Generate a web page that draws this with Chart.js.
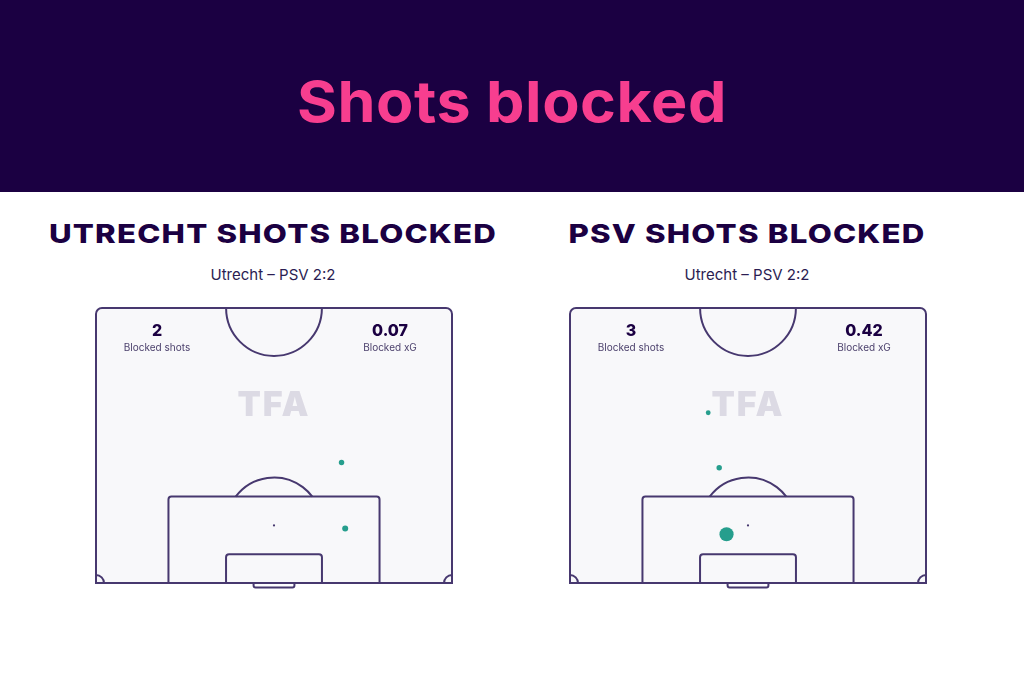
<!DOCTYPE html>
<html>
<head>
<meta charset="utf-8">
<script src="https://cdn.jsdelivr.net/npm/chart.js@4"></script>
<style>
  html, body { margin: 0; padding: 0; }
  body { width: 1024px; height: 683px; position: relative; background: #fff; overflow: hidden; font-family: "Inter", sans-serif; color: #1b0042; }
  .header { position: absolute; left: 0; top: 0; width: 1024px; height: 192px; background: #1b0042; }
  .t { position: absolute; transform: translate(-50%, -50%); white-space: nowrap; line-height: 1; }
  .main { font-size: 57px; font-weight: 700; color: #f73e8f; letter-spacing: 0.5px; transform: translate(-50%, -50%) scaleX(1.07); }
  .ptitle { font-size: 26px; font-weight: 800; letter-spacing: 1px; color: #1b0042; transform: translate(-50%, -50%) scaleX(1.2); }
  .sub { font-size: 15px; color: #2b1d52; }
  .num { font-size: 16px; font-weight: 800; color: #1b0042; }
  .lab { font-size: 10px; color: #4a3f6b; }
  .wm { font-size: 34px; font-weight: 900; color: #dcdae4; letter-spacing: 2px; }
  .box { position: absolute; }
</style>
</head>
<body>
<div class="header"></div>
<div class="t main" style="left:512px; top:101px;">Shots blocked</div>

<div class="t ptitle" style="left:273px; top:234px;">UTRECHT SHOTS BLOCKED</div>
<div class="t sub" style="left:273px; top:274px;">Utrecht – PSV 2:2</div>
<div class="t ptitle" style="left:747px; top:234px;">PSV SHOTS BLOCKED</div>
<div class="t sub" style="left:747px; top:274px;">Utrecht – PSV 2:2</div>

<div class="box" style="left:86px; top:298px;"><canvas id="leftPitch" width="376" height="295"></canvas></div>
<div class="box" style="left:560px; top:298px;"><canvas id="rightPitch" width="376" height="295"></canvas></div>

<div class="t wm" style="left:274px; top:404px;">TFA</div>
<div class="t wm" style="left:748px; top:404px;">TFA</div>

<div class="t num" id="lShots" style="left:157px; top:330px;"></div>
<div class="t lab" style="left:157px; top:347px;">Blocked shots</div>
<div class="t num" id="lXg" style="left:390px; top:330px;"></div>
<div class="t lab" style="left:390px; top:347px;">Blocked xG</div>
<div class="t num" id="rShots" style="left:631px; top:330px;"></div>
<div class="t lab" style="left:631px; top:347px;">Blocked shots</div>
<div class="t num" id="rXg" style="left:864px; top:330px;"></div>
<div class="t lab" style="left:864px; top:347px;">Blocked xG</div>

<script>
// shot locations in metres: x across the pitch (0-68), y from the goal line
const utrechtX = [46.9, 47.6];
const utrechtY = [23.0, 10.4];
const utrechtXg = [0.03, 0.04];

const psvX = [26.4, 28.5, 29.9];
const psvY = [32.5, 22.0, 9.3];
const psvXg = [0.02, 0.03, 0.37];

const LINE = "#47386f";
const DOT = "#269e8d";

const pitchPlugin = {
  id: "pitch",
  beforeDatasetsDraw(chart) {
    const { ctx, scales: { x, y } } = chart;
    const px = v => x.getPixelForValue(v);
    const py = v => y.getPixelForValue(v);
    const m = px(1) - px(0); // pixels per metre

    ctx.save();
    ctx.lineWidth = 2;
    ctx.strokeStyle = LINE;

    // outer half pitch
    ctx.beginPath();
    ctx.roundRect(px(0), py(52.5), px(68) - px(0), py(0) - py(52.5), [6, 6, 0, 0]);
    ctx.fillStyle = "#f8f8fa";
    ctx.fill();
    ctx.stroke();

    // centre circle
    ctx.beginPath();
    ctx.arc(px(34), py(52.5), 9.15 * m, 0, Math.PI);
    ctx.stroke();

    // penalty area
    ctx.beginPath();
    ctx.roundRect(px(13.84), py(16.5), px(54.16) - px(13.84), py(0) - py(16.5), [3, 3, 0, 0]);
    ctx.stroke();

    // six yard box
    ctx.beginPath();
    ctx.roundRect(px(24.84), py(5.5), px(43.16) - px(24.84), py(0) - py(5.5), [3, 3, 0, 0]);
    ctx.stroke();

    // penalty arc
    const th = Math.asin(5.5 / 9.15);
    ctx.beginPath();
    ctx.arc(px(34), py(11), 9.15 * m, Math.PI + th, 2 * Math.PI - th);
    ctx.stroke();

    // penalty spot
    ctx.beginPath();
    ctx.arc(px(34), py(11), 1.1, 0, 2 * Math.PI);
    ctx.fillStyle = LINE;
    ctx.fill();

    // corner arcs
    ctx.beginPath();
    ctx.arc(px(0), py(0), 8, -Math.PI / 2, 0);
    ctx.stroke();
    ctx.beginPath();
    ctx.arc(px(68), py(0), 8, Math.PI, 1.5 * Math.PI);
    ctx.stroke();

    // goal
    ctx.beginPath();
    ctx.roundRect(px(30.1), py(0), px(37.9) - px(30.1), 4.5, [0, 0, 2, 2]);
    ctx.stroke();

    ctx.restore();
  }
};

function drawPitch(id, xs, ys, xg) {
  const el = document.getElementById(id);
  new Chart(el.getContext("2d"), {
    type: "scatter",
    data: {
      datasets: [{
        data: xs.map((v, i) => ({ x: v, y: ys[i] })),
        backgroundColor: DOT,
        borderWidth: 0,
        pointRadius: xg.map(v => 1 + 10 * Math.sqrt(v)),
        clip: false
      }]
    },
    options: {
      responsive: false,
      animation: false,
      layout: { padding: 10 },
      scales: {
        x: { type: "linear", min: 0, max: 68, display: false },
        y: { type: "linear", min: 0, max: 52.5, display: false }
      },
      plugins: { legend: { display: false }, tooltip: { enabled: false } }
    },
    plugins: [pitchPlugin]
  });
}

drawPitch("leftPitch", utrechtX, utrechtY, utrechtXg);
drawPitch("rightPitch", psvX, psvY, psvXg);

const sum = a => a.reduce((s, v) => s + v, 0);
document.getElementById("lShots").textContent = utrechtX.length;
document.getElementById("lXg").textContent = sum(utrechtXg).toFixed(2);
document.getElementById("rShots").textContent = psvX.length;
document.getElementById("rXg").textContent = sum(psvXg).toFixed(2);
</script>
</body>
</html>
